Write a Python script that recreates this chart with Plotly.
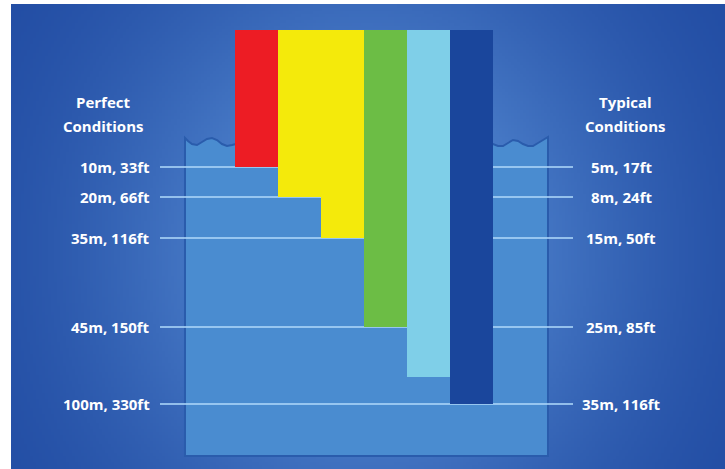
import base64
import struct
import zlib

import numpy as np
import plotly.graph_objects as go

# ---------------- data ----------------
band_names = ["Red", "Orange", "Yellow", "Green", "Blue", "Indigo"]
columns = [0, 1, 2, 3, 4, 5]
# penetration depth of each band on the illustrative depth scale (0 = bar tops)
band_depth = [13.7, 16.7, 20.8, 29.7, 34.7, 37.4]
band_colors = ["#ed1c24", "#f4ea0b", "#f4ea0b", "#6cbd45", "#7fcfe8", "#1a469c"]

level_pos = [13.7, 16.7, 20.8, 29.7, 37.4]
perfect_labels = ["10m, 33ft", "20m, 66ft", "35m, 116ft", "45m, 150ft", "100m, 330ft"]
typical_labels = ["5m, 17ft", "8m, 24ft", "15m, 50ft", "25m, 85ft", "35m, 116ft"]

# ---------------- styling helpers ----------------
W, H = 725, 469


def px(x):
    return x / W


def py(y):
    return 1 - y / H


# background radial glow as a small PNG
def make_bg():
    x0, y0 = 11, 4
    bw, bh = 238, 155
    xs = x0 + (np.arange(bw) + 0.5) * (W - x0) / bw
    ys = y0 + (np.arange(bh) + 0.5) * (H - y0) / bh
    X, Y = np.meshgrid(xs, ys)
    r2 = ((X - 367) / 300) ** 2 + ((Y - 250) / 330) ** 2
    t = np.exp(-1.24 * r2)[..., None]
    dark = np.array([30, 72, 160], float)
    light = np.array([88, 142, 214], float)
    img = (dark + (light - dark) * t).clip(0, 255).astype(np.uint8)
    raw = b"".join(b"\x00" + row.tobytes() for row in img)

    def chunk(tag, data):
        return (struct.pack(">I", len(data)) + tag + data
                + struct.pack(">I", zlib.crc32(tag + data) & 0xFFFFFFFF))

    png = (b"\x89PNG\r\n\x1a\n"
           + chunk(b"IHDR", struct.pack(">IIBBBBB", bw, bh, 8, 2, 0, 0, 0))
           + chunk(b"IDAT", zlib.compress(raw, 9))
           + chunk(b"IEND", b""))
    return "data:image/png;base64," + base64.b64encode(png).decode()


fig = go.Figure()

fig.add_trace(go.Bar(
    x=columns, y=band_depth, base=0, width=1,
    marker=dict(color=band_colors, line=dict(width=0)),
    text=band_names, hoverinfo="text", textposition="none",
))

# tank (decorative) with wavy water surface near the walls
tank_pts = [(185, 456), (185, 138), (188, 141), (192, 144), (197, 145), (202, 142),
            (207, 139), (212, 138), (217, 140), (222, 144), (227, 146), (232, 145),
            (236, 144), (490, 144),
            (493, 144), (498, 146), (503, 146), (508, 143), (513, 140), (518, 141),
            (523, 144), (528, 146), (533, 146), (538, 143), (543, 140), (548, 137),
            (548, 456)]
path = "M " + " L ".join(f"{px(a):.5f},{py(b):.5f}" for a, b in tank_pts) + " Z"

shapes = [dict(type="path", path=path, xref="paper", yref="paper", layer="below",
               fillcolor="rgb(74,140,208)", line=dict(color="rgb(42,92,172)", width=2))]
for lv in level_pos:
    shapes.append(dict(type="line", xref="paper", yref="y", x0=px(160), x1=px(573),
                       y0=lv, y1=lv, layer="below",
                       line=dict(color="rgba(170,212,248,0.8)", width=2)))

font = dict(family="Open Sans", size=15, color="white")
annotations = []
for lv, lab in zip(level_pos, perfect_labels):
    annotations.append(dict(x=px(152), xref="paper", y=lv, yref="y", text=f"<b>{lab}</b>",
                            showarrow=False, xanchor="right", yanchor="middle", font=font))
for lv, lab in zip(level_pos, typical_labels):
    annotations.append(dict(x=px(621), xref="paper", y=lv, yref="y", text=f"<b>{lab}</b>",
                            showarrow=False, xanchor="center", yanchor="middle", font=font))
for xc, lines in [(103, ["Perfect", "Conditions"]), (625, ["Typical", "Conditions"])]:
    for yc, t in zip([102, 126], lines):
        annotations.append(dict(x=px(xc), xref="paper", y=py(yc), yref="paper",
                                text=f"<b>{t}</b>", showarrow=False,
                                xanchor="center", yanchor="middle", font=font))

col_w = 43.0
left0 = 235
fig.update_layout(
    width=W, height=H,
    margin=dict(l=0, r=0, t=0, b=0),
    paper_bgcolor="white", plot_bgcolor="rgba(0,0,0,0)",
    showlegend=False, bargap=0,
    xaxis=dict(range=[(0 - left0) / col_w - 0.5, (W - left0) / col_w - 0.5],
               visible=False, fixedrange=True),
    yaxis=dict(range=[(H - 30) / 10, -3.0], visible=False, fixedrange=True),
    images=[dict(source=make_bg(), xref="paper", yref="paper", x=px(11), y=py(4),
                 sizex=1 - px(11), sizey=py(4), xanchor="left", yanchor="top",
                 sizing="stretch", layer="below")],
    shapes=shapes,
    annotations=annotations,
)

fig.write_html("out.html")
